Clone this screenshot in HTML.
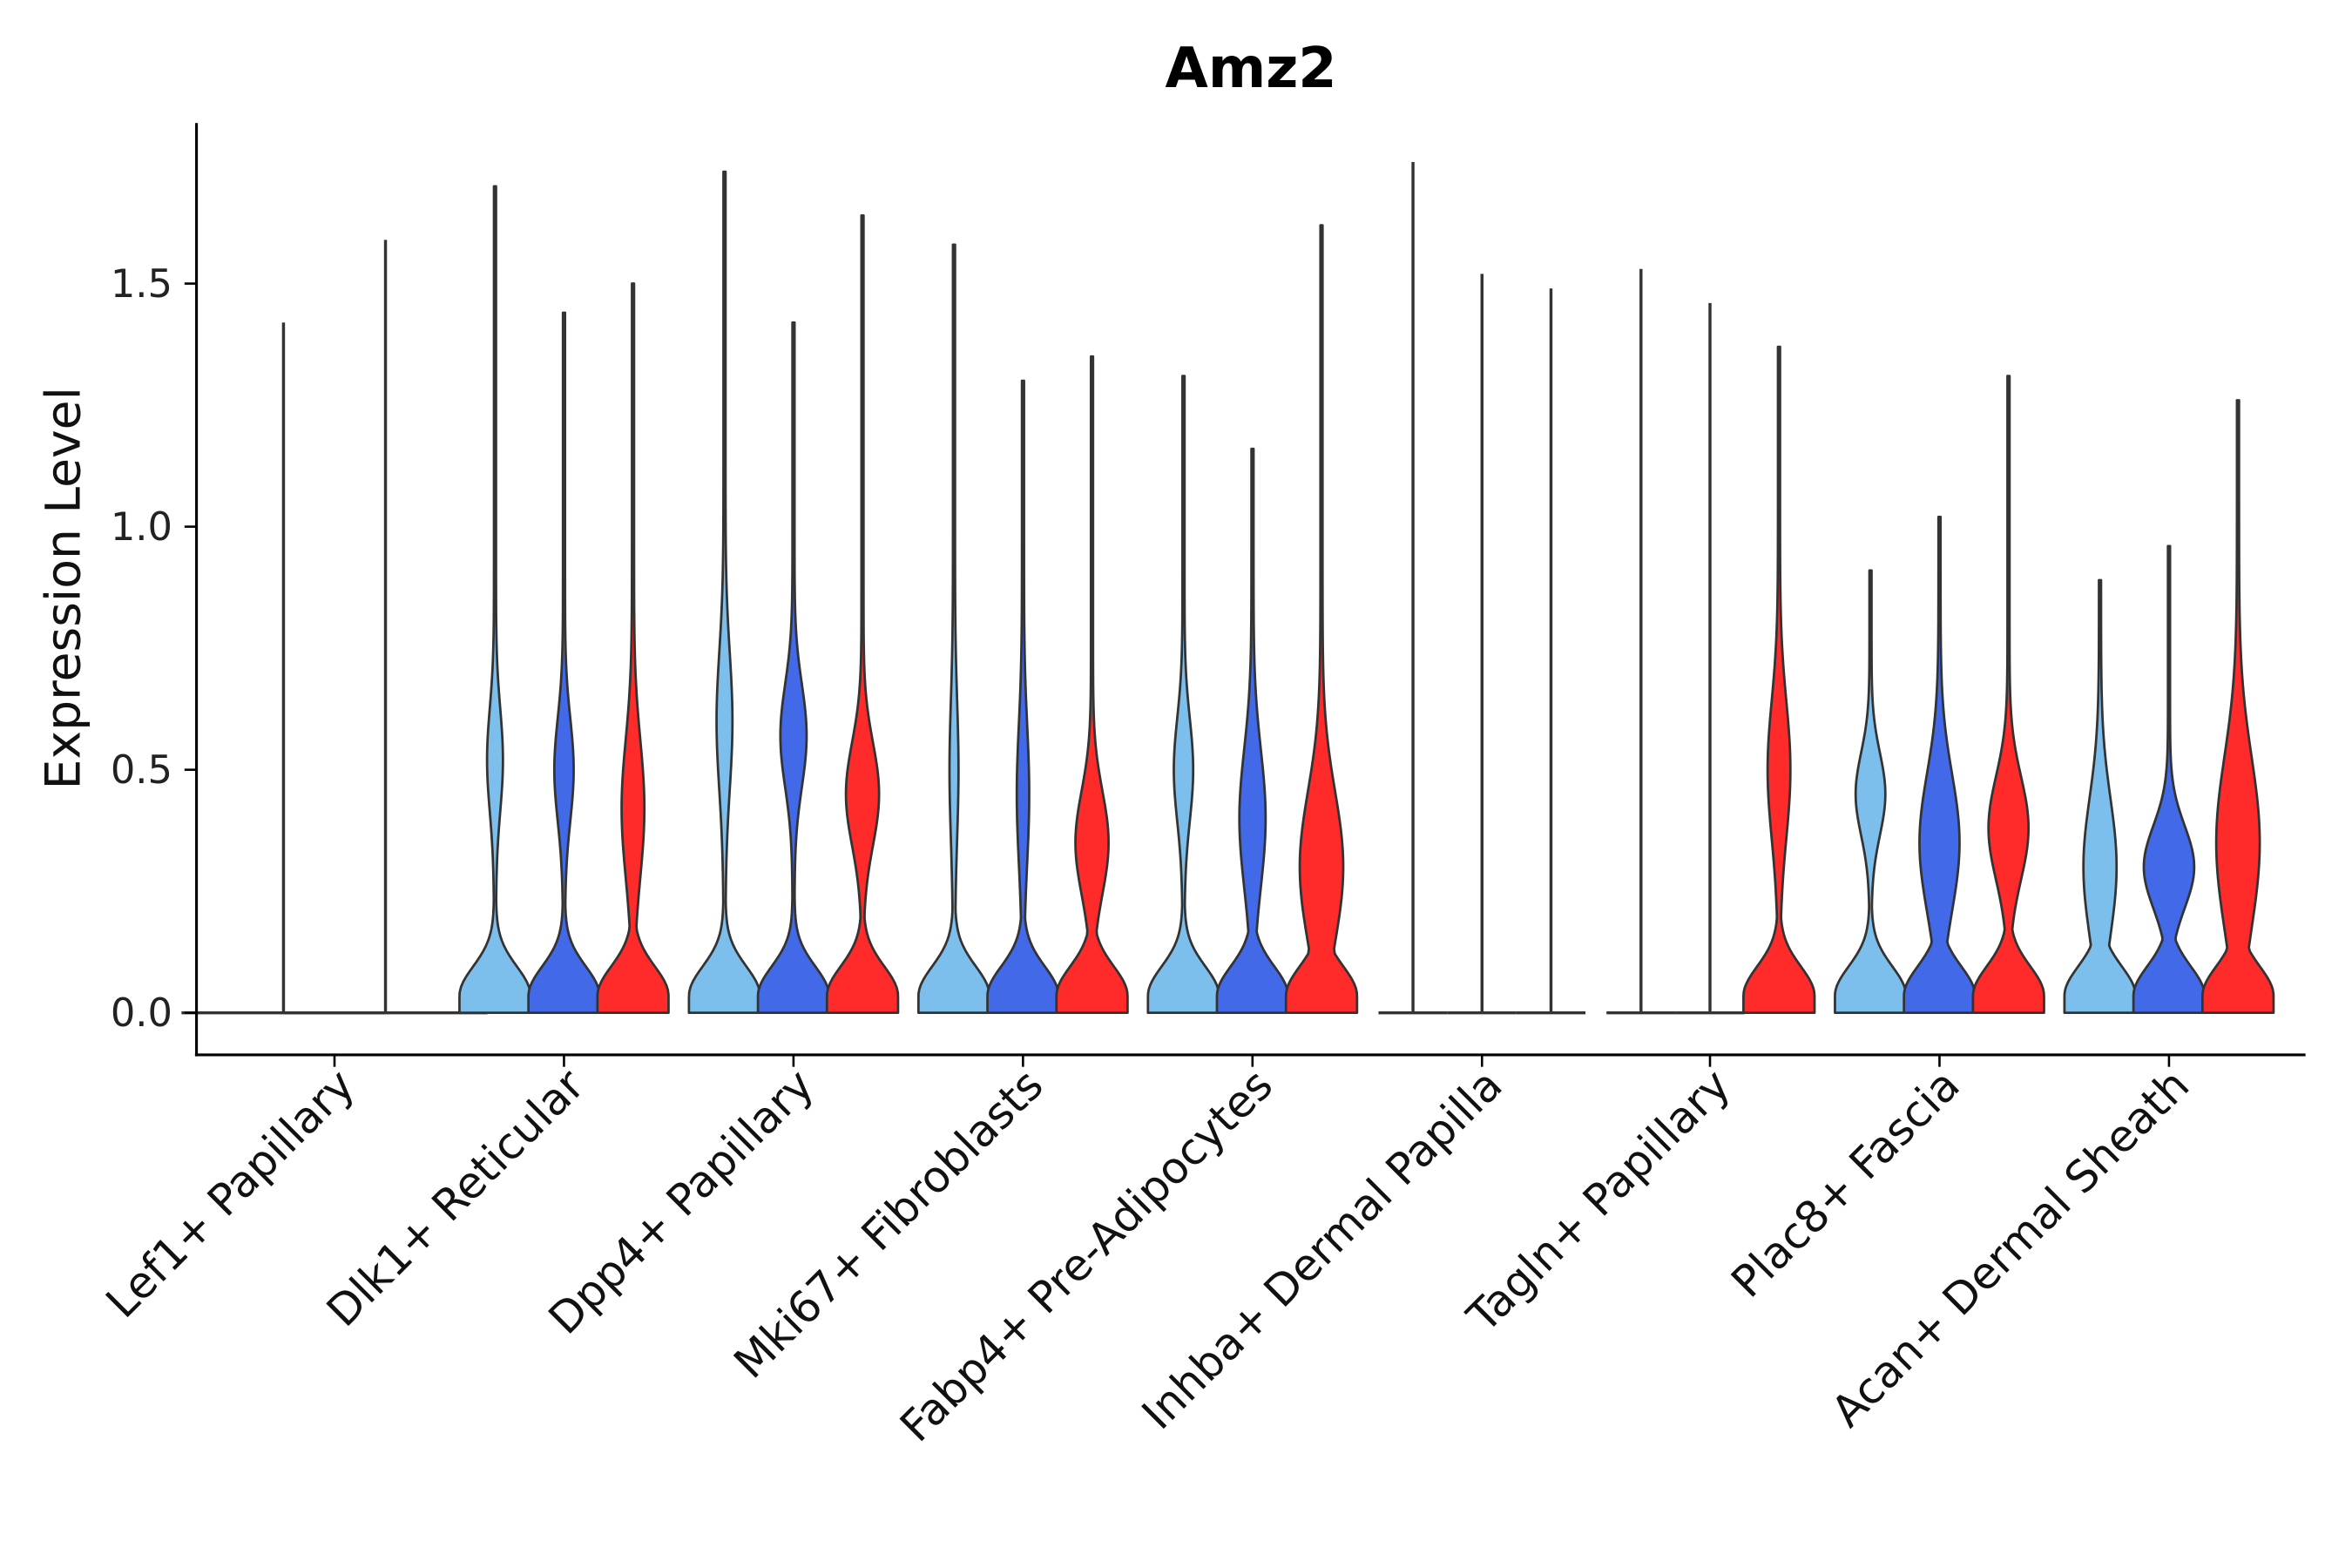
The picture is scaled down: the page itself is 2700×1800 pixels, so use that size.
<!DOCTYPE html>
<html><head><meta charset="utf-8"><style>html,body{margin:0;padding:0;background:#fff}svg{display:block}</style></head>
<body>
<svg id="s" width="2700" height="1800" viewBox="0 0 1568 1045" preserveAspectRatio="none" xmlns="http://www.w3.org/2000/svg" font-family="'DejaVu Sans','Liberation Sans',sans-serif">
<rect width="1568" height="1045" fill="#fff"/>
<text x="834" y="58" text-anchor="middle" font-size="37" font-weight="bold">Amz2</text>
<text transform="translate(53,392) rotate(-90)" text-anchor="middle" font-size="32" fill="#111">Expression Level</text>
<g id="v"></g>
<line x1="131" y1="82" x2="131" y2="704" stroke="#000" stroke-width="1.8"/>
<line x1="130" y1="703" x2="1537" y2="703" stroke="#000" stroke-width="1.8"/>
<g font-size="26" text-anchor="end" fill="#222">
<text x="115" y="684">0.0</text><text x="115" y="522">0.5</text><text x="115" y="360">1.0</text><text x="115" y="198">1.5</text>
</g>
<g stroke="#000" stroke-width="1.5">
<line x1="123" y1="675" x2="131" y2="675"/><line x1="123" y1="513" x2="131" y2="513"/><line x1="123" y1="351" x2="131" y2="351"/><line x1="123" y1="189" x2="131" y2="189"/>
</g>
<g id="lab" font-size="29" text-anchor="end" fill="#111"></g>
</svg>
<script>
const NS="http://www.w3.org/2000/svg";
const Y=v=>675-324*v;
const C=["#7DBFEC","#4169E8","#FF2A2A"];
const centers=[223,376,529,682,835,988,1140,1293,1446];
const names=["Lef1+ Papillary","Dlk1+ Reticular","Dpp4+ Papillary","Mki67+ Fibroblasts","Fabp4+ Pre-Adipocytes","Inhba+ Dermal Papilla","Tagln+ Papillary","Plac8+ Fascia","Acan+ Dermal Sheath"];
const D=[
 [[0,0,0,1.42,1],[0,0,0,1.59,1]],
 [[.2,.52,.15,1.70],[.25,.5,.15,1.44],[.3,.42,.2,1.50]],
 [[.2,.6,.2,1.73],[.35,.57,.15,1.42],[.45,.45,.15,1.64]],
 [[.1,.5,.2,1.58],[.15,.45,.2,1.30],[.45,.35,.15,1.35]],
 [[.25,.5,.15,1.31],[.35,.4,.2,1.16],[.6,.3,.22,1.62]],
 [[0,0,0,1.75,1],[0,0,0,1.52,1],[0,0,0,1.49,1]],
 [[0,0,0,1.53,1],[0,0,0,1.46,1],[.3,.5,.2,1.37]],
 [[.4,.45,.12,.91],[.55,.35,.2,1.02],[.55,.38,.15,1.31]],
 [[.45,.3,.2,.89],[.7,.3,.12,.96],[.6,.35,.25,1.26]]
];
const g=document.getElementById('v');
D.forEach((grp,gi)=>{
 const n=grp.length, c=centers[gi];
 const off = n==2?[-34,34]:[-46,0,46];
 const H = n==2?68:23;
 grp.forEach((p,k)=>{
  const x=c+off[k]; const [b,m,s,mx,flat]=p;
  let pts=[];
  const N=160;
  for(let i=0;i<=N;i++){
   const v=mx*i/N;
   const g1=Math.exp(-Math.pow((Math.max(v,0.035)-0.035)/0.085,2));
   const g2=b*Math.exp(-Math.pow((v-m)/s,2));
   pts.push([v,H*Math.max(g1,g2)+0.7]);
  }
  let d="";
  if(flat){ d=`M${x-H},${Y(0)}L${x+H},${Y(0)}M${x},${Y(0)}L${x},${Y(mx)}`; }
  else{
  d="M"+(x-pts[0][1])+","+Y(0);
  pts.forEach(q=>d+="L"+(x-q[1]).toFixed(2)+","+Y(q[0]).toFixed(2));
  for(let i=pts.length-1;i>=0;i--) d+="L"+(x+pts[i][1]).toFixed(2)+","+Y(pts[i][0]).toFixed(2);
  d+="Z";}
  const e=document.createElementNS(NS,'path');
  e.setAttribute('d',d);e.setAttribute('fill',flat?'none':C[k]);e.setAttribute('stroke','#333');e.setAttribute('stroke-width',flat?'2':'1.6');e.setAttribute('stroke-linejoin','round');
  g.appendChild(e);
 });
});
const L=document.getElementById('lab');
centers.forEach((c,i)=>{
 const t=document.createElementNS(NS,'line');
 t.setAttribute('x1',c);t.setAttribute('x2',c);t.setAttribute('y1',703);t.setAttribute('y2',711);t.setAttribute('stroke','#000');t.setAttribute('stroke-width','1.5');
 L.appendChild(t);
 const e=document.createElementNS(NS,'text');
 e.setAttribute('transform',`translate(${c+15},${725}) rotate(-45)`);
 e.textContent=names[i];L.appendChild(e);
});
</script>
</body></html>
